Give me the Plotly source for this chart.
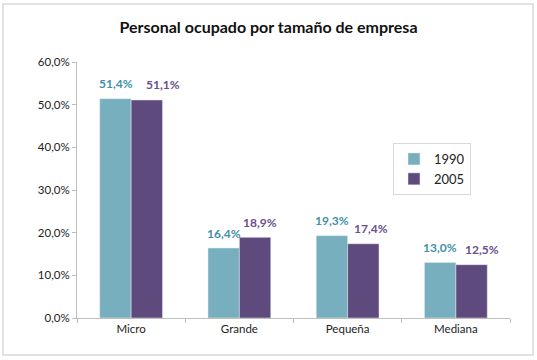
import plotly.graph_objects as go

categories = ["Micro", "Grande", "Pequeña", "Mediana"]
values_1990 = [0.514, 0.164, 0.193, 0.130]
values_2005 = [0.511, 0.189, 0.174, 0.125]
series_names = ["1990", "2005"]

c1990 = "#78afbe"
c2005 = "#5f4a7d"
lab1990 = "#3f90aa"
lab2005 = "#6b4f8e"

fig = go.Figure()
fig.add_trace(go.Bar(x=categories, y=values_1990, name=series_names[0], marker_color=c1990))
fig.add_trace(go.Bar(x=categories, y=values_2005, name=series_names[1], marker_color=c2005))

W, H = 537, 360
L, R, T, B = 77, 27, 62, 42
pw, ph = W - L - R, H - T - B

def px_to_paper_x(px):
    return (px - L) / pw

def px_to_paper_y(py):
    return (H - B - py) / ph

# data labels (manually nudged as in the original)
bar_half = 15.5
extra_2005 = [16, 5, 8, 11]
annotations = []
for i, c in enumerate(categories):
    annotations.append(dict(x=c, y=values_1990[i], xref="x", yref="y",
                            text=f"{values_1990[i]*100:.1f}%".replace(".", ","),
                            showarrow=False, xshift=-bar_half, yshift=15, yanchor="middle",
                            font=dict(family="Lato", size=12, color=lab1990, weight="bold")))
    annotations.append(dict(x=c, y=values_2005[i], xref="x", yref="y",
                            text=f"{values_2005[i]*100:.1f}%".replace(".", ","),
                            showarrow=False, xshift=bar_half + extra_2005[i], yshift=15, yanchor="middle",
                            font=dict(family="Lato", size=12, color=lab2005, weight="bold")))

fig.update_layout(
    width=W, height=H,
    margin=dict(l=L, r=R, t=T, b=B),
    paper_bgcolor="white", plot_bgcolor="white",
    separators=",.",
    barmode="group", bargap=0.42, bargroupgap=0,
    font=dict(family="Lato", size=11, color="#222222"),
    title=dict(text="<b>Personal ocupado por tamaño de empresa</b>",
               x=0.5, xanchor="center", y=1 - 27 / H, yanchor="middle",
               font=dict(size=16, family="Lato", color="#111111")),
    showlegend=True,
    legend=dict(x=px_to_paper_x(393), y=px_to_paper_y(143), xanchor="left", yanchor="top",
                bordercolor="#d9d9d9", borderwidth=1, bgcolor="white",
                font=dict(size=13, family="Lato", color="#222222"),
                itemwidth=30, tracegroupgap=4),
    xaxis=dict(showline=True, linecolor="#bfbfbf", linewidth=1,
               ticks="outside", tickson="boundaries", ticklen=4, tickcolor="#bfbfbf",
               tickfont=dict(size=11.5, family="Lato", color="#222222"), showgrid=False),
    yaxis=dict(range=[0, 0.6], dtick=0.1, tickformat=".1%", showgrid=False,
               showline=True, linecolor="#bfbfbf", linewidth=1,
               ticks="outside", ticklen=4, tickcolor="#bfbfbf",
               tickfont=dict(size=11.5, family="Lato", color="#222222"), zeroline=False),
    annotations=annotations,
    shapes=[dict(type="rect", xref="paper", yref="paper",
                 x0=px_to_paper_x(3), x1=px_to_paper_x(533),
                 y0=px_to_paper_y(355), y1=px_to_paper_y(4),
                 line=dict(color="#d9d9d9", width=1.5), fillcolor="rgba(0,0,0,0)", layer="below")],
)

fig.write_html("out.html")
